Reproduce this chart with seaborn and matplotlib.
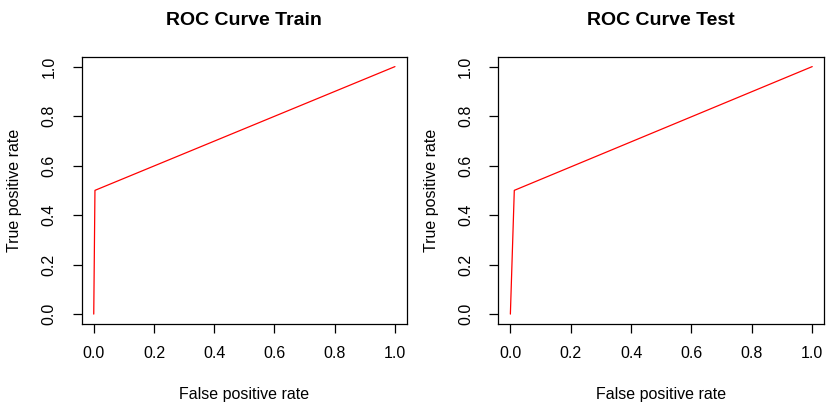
import matplotlib
matplotlib.use("Agg")
import matplotlib.pyplot as plt
import seaborn as sns
import pandas as pd

# ROC points (false positive rate, true positive rate)
fpr_train = [0.0, 0.004, 1.0]
tpr_train = [0.0, 0.5, 1.0]
fpr_test = [0.0, 0.013, 1.0]
tpr_test = [0.0, 0.5, 1.0]

titles = ["ROC Curve Train", "ROC Curve Test"]
ticks = [0.0, 0.2, 0.4, 0.6, 0.8, 1.0]
tick_labels = ["0.0", "0.2", "0.4", "0.6", "0.8", "1.0"]

sns.set_theme(style="ticks")
plt.rcParams["font.family"] = ["Liberation Sans", "DejaVu Sans"]

fig = plt.figure(figsize=(8.31, 4.03), dpi=100)
fig.patch.set_facecolor("white")

boxes = [
    [81.7 / 831, 79 / 403, (407 - 81.7) / 831, (346.3 - 79) / 403],
    [498.3 / 831, 79 / 403, (824.3 - 498.3) / 831, (346.3 - 79) / 403],
]
curves = [(fpr_train, tpr_train), (fpr_test, tpr_test)]

for box, (fpr, tpr), title in zip(boxes, curves, titles):
    ax = fig.add_axes(box)
    ax.set_facecolor("white")
    df = pd.DataFrame({"fpr": fpr, "tpr": tpr})
    sns.lineplot(data=df, x="fpr", y="tpr", sort=False, estimator=None,
                 color="red", linewidth=0.9, ax=ax)
    ax.set_xlim(-0.04, 1.04)
    ax.set_ylim(-0.04, 1.04)
    ax.set_xticks(ticks)
    ax.set_xticklabels(tick_labels)
    ax.set_yticks(ticks)
    ax.set_yticklabels(tick_labels, rotation=90, va="center")
    for s in ax.spines.values():
        s.set_visible(True)
        s.set_color("black")
        s.set_linewidth(0.9)
    ax.tick_params(axis="both", length=6.2, width=0.9, color="black",
                   labelsize=11.5, labelcolor="black", direction="out")
    ax.tick_params(axis="x", pad=9.5)
    ax.tick_params(axis="y", pad=12)
    ax.set_xlabel("False positive rate", fontsize=11.5, color="black", labelpad=19)
    ax.set_ylabel("True positive rate", fontsize=11.5, color="black", labelpad=14)
    ax.set_title(title, fontsize=14, fontweight="bold", color="black", pad=22.8)
    ax.grid(False)

fig.savefig("out.png", dpi=100, facecolor="white")
